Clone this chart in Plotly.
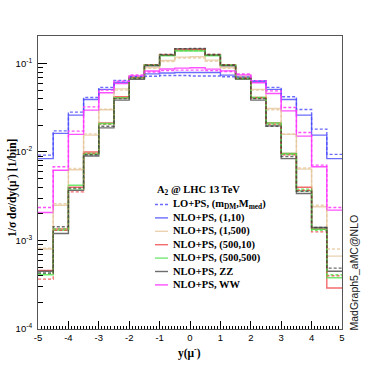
import plotly.graph_objects as go

# ---------------- data ----------------
bin_edges = [-5.0, -4.5, -4.0, -3.5, -3.0, -2.5, -2.0, -1.5, -1.0, -0.5, 0.0,
             0.5, 1.0, 1.5, 2.0, 2.5, 3.0, 3.5, 4.0, 4.5, 5.0]

nlo_1_10 = [0.0084, 0.0162, 0.0261, 0.0392, 0.0509, 0.061, 0.0706, 0.0763, 0.078, 0.079,
            0.079, 0.079, 0.0738, 0.0706, 0.062, 0.0509, 0.0392, 0.0261, 0.0155, 0.0084]
lo_1_10 = [0.0092, 0.0173, 0.0282, 0.0413, 0.0536, 0.0642, 0.071, 0.0718, 0.073, 0.073,
           0.072, 0.072, 0.0706, 0.070, 0.064, 0.0536, 0.042, 0.0302, 0.0181, 0.0094]

nlo_1_500 = [0.00080, 0.0025, 0.0063, 0.0155, 0.0300, 0.0516, 0.0718, 0.090, 0.108, 0.118,
             0.119, 0.109, 0.090, 0.072, 0.0509, 0.031, 0.0158, 0.0064, 0.0024, 0.000665]
lo_1_500 = [0.00082, 0.0026, 0.0065, 0.0160, 0.0305, 0.050, 0.070, 0.088, 0.105, 0.115,
            0.115, 0.106, 0.088, 0.070, 0.050, 0.030, 0.0160, 0.0066, 0.0025, 0.00080]

nlo_500_10 = [0.00046, 0.00135, 0.0040, 0.0100, 0.0213, 0.042, 0.0695, 0.096, 0.124, 0.142,
              0.143, 0.124, 0.096, 0.0675, 0.0413, 0.0213, 0.0096, 0.0040, 0.00135, 0.00029]
lo_500_10 = [0.000366, 0.0013, 0.00354, 0.0096, 0.0205, 0.041, 0.069, 0.097, 0.126, 0.145,
             0.145, 0.126, 0.097, 0.068, 0.041, 0.0205, 0.0093, 0.0037, 0.00125, 0.0004]

nlo_500_500 = [0.00041, 0.0013, 0.0042, 0.0096, 0.021, 0.041, 0.069, 0.095, 0.122, 0.138,
               0.138, 0.122, 0.095, 0.067, 0.0413, 0.0213, 0.0096, 0.00363, 0.00134, 0.00038]
lo_500_500 = [0.00042, 0.00135, 0.0038, 0.0094, 0.0207, 0.041, 0.068, 0.096, 0.124, 0.140,
              0.140, 0.124, 0.096, 0.068, 0.041, 0.0207, 0.0094, 0.0038, 0.0013, 0.00041]

nlo_zz = [0.00045, 0.0012, 0.0037, 0.0090, 0.0187, 0.0385, 0.066, 0.094, 0.124, 0.146,
          0.146, 0.124, 0.094, 0.0665, 0.0385, 0.0197, 0.0084, 0.0034, 0.0014, 0.00045]
lo_zz = [0.00043, 0.00143, 0.0039, 0.0093, 0.0195, 0.040, 0.068, 0.096, 0.126, 0.147,
         0.148, 0.126, 0.096, 0.068, 0.040, 0.0195, 0.0089, 0.0036, 0.0014, 0.000487]

nlo_ww = [0.00207, 0.00622, 0.0158, 0.0297, 0.0466, 0.0594, 0.072, 0.082, 0.0865, 0.0885,
          0.0893, 0.0862, 0.0825, 0.0743, 0.0605, 0.0458, 0.0291, 0.0151, 0.0068, 0.0022]
lo_ww = [0.00236, 0.0068, 0.0172, 0.0323, 0.050, 0.063, 0.074, 0.080, 0.083, 0.084,
         0.084, 0.083, 0.081, 0.076, 0.064, 0.049, 0.0318, 0.0166, 0.0071, 0.00236]

series_names = ["NLO+PS, (1,10)", "NLO+PS, (1,500)", "NLO+PS, (500,10)",
                "NLO+PS, (500,500)", "NLO+PS, ZZ", "NLO+PS, WW"]
lo_label = "LO+PS, (m<sub>DM</sub>,M<sub>med</sub>)"
header = "A<sub>2</sub> @ LHC 13 TeV"

x_ticks = [-5, -4, -3, -2, -1, 0, 1, 2, 3, 4, 5]
x_ticktext = ["-5", "-4", "-3", "-2", "-1", "0", "1", "2", "3", "4", "5"]
y_ticks = [1e-4, 1e-3, 1e-2, 1e-1]
y_ticktext = ["10<sup>-4</sup>", "10<sup>-3</sup>", "10<sup>-2</sup>", "10<sup>-1</sup>"]

# ---------------- style ----------------
colors = ["rgba(70,70,255,0.8)", "rgba(228,195,150,0.75)", "rgba(240,70,70,0.8)",
          "rgba(70,225,70,0.75)", "rgba(60,60,60,0.75)", "rgba(255,50,255,0.85)"]
nlo_sets = [nlo_1_10, nlo_1_500, nlo_500_10, nlo_500_500, nlo_zz, nlo_ww]
lo_sets = [lo_1_10, lo_1_500, lo_500_10, lo_500_500, lo_zz, lo_ww]
LW = 1.4
DASH = "3px,2px"

fig = go.Figure()
for vals, col in zip(nlo_sets, colors):
    fig.add_trace(go.Scatter(x=bin_edges, y=vals + [vals[-1]], mode="lines",
                             line=dict(shape="hv", color=col, width=LW),
                             showlegend=False, hoverinfo="skip"))
for vals, col in zip(lo_sets, colors):
    fig.add_trace(go.Scatter(x=bin_edges, y=vals + [vals[-1]], mode="lines",
                             line=dict(shape="hv", color=col, width=LW, dash=DASH),
                             showlegend=False, hoverinfo="skip"))

# ---------------- layout geometry ----------------
W, H = 382, 367
ML, MR, MT, MB = 38, 40, 36, 38
PW, PH = W - ML - MR, H - MT - MB


def px(xp):
    return (xp - ML) / PW


def py(yp):
    return (H - MB - yp) / PH


serif_bold = dict(family="Liberation Serif", size=10.5, color="black", weight="bold")
annotations = []
shapes = []

# Legend (manual, ROOT-style compact)
annotations.append(dict(text=header, x=px(155), y=py(190), xref="paper", yref="paper",
                        xanchor="left", yanchor="middle", showarrow=False, font=serif_bold))
legend_rows = [(lo_label, colors[0], DASH)] + [(n, c, "solid") for n, c in zip(series_names, colors)]
for i, (lab, col, dash) in enumerate(legend_rows):
    yy = 204.5 + 13.4 * i
    annotations.append(dict(text=lab, x=px(171), y=py(yy), xref="paper", yref="paper",
                            xanchor="left", yanchor="middle", showarrow=False, font=serif_bold))
    shapes.append(dict(type="line", xref="paper", yref="paper",
                       x0=px(155), x1=px(168), y0=py(yy), y1=py(yy),
                       line=dict(color=col, width=LW, dash=dash)))

# axis titles
annotations.append(dict(text="1/σ dσ/dy(μ<sup>-</sup>) [1/bin]", x=px(12), y=py(188),
                        xref="paper", yref="paper", xanchor="center", yanchor="middle",
                        textangle=-90, showarrow=False,
                        font=dict(family="Liberation Serif", size=11.5, color="black", weight="bold")))
annotations.append(dict(text="y(μ<sup>-</sup>)", x=px(189), y=py(353),
                        xref="paper", yref="paper", xanchor="center", yanchor="middle",
                        showarrow=False,
                        font=dict(family="Liberation Serif", size=11.5, color="black", weight="bold")))
annotations.append(dict(text="MadGraph5_aMC@NLO", x=px(353.5), y=py(273),
                        xref="paper", yref="paper", xanchor="center", yanchor="middle",
                        textangle=-90, showarrow=False,
                        font=dict(family="Liberation Sans", size=10.5, color="#222")))

y_minor = [k * 10.0 ** e for e in (-4, -3, -2, -1) for k in range(2, 10) if k * 10.0 ** e <= 0.2]

tickfont = dict(family="Liberation Sans", size=9.5, color="black")
frame = "#555555"

fig.update_layout(
    width=W, height=H, autosize=False,
    margin=dict(l=ML, r=MR, t=MT, b=MB, pad=0, autoexpand=False),
    paper_bgcolor="white", plot_bgcolor="white",
    showlegend=False,
    annotations=annotations, shapes=shapes,
    xaxis=dict(range=[-5, 5], tickvals=x_ticks, ticktext=x_ticktext, ticks="inside",
               ticklen=8, tickwidth=1, tickcolor="black", showline=True, linecolor=frame,
               linewidth=1, mirror=True, showgrid=False, zeroline=False, tickfont=tickfont,
               automargin=False,
               minor=dict(ticks="inside", dtick=0.1, ticklen=3, tickcolor="black", showgrid=False)),
    xaxis2=dict(range=[-5, 5], overlaying="x", anchor="y", side="bottom",
                tickvals=[-4.5, -3.5, -2.5, -1.5, -0.5, 0.5, 1.5, 2.5, 3.5, 4.5],
                ticks="inside", ticklen=5, tickcolor="black", showticklabels=False,
                showline=False, showgrid=False, zeroline=False, automargin=False),
    yaxis=dict(type="log", range=[-4, -0.69], tickvals=y_ticks, ticktext=y_ticktext,
               ticks="inside", ticklen=9, tickwidth=1, tickcolor="black", showline=True,
               linecolor=frame, linewidth=1, mirror=True, showgrid=False, zeroline=False,
               tickfont=tickfont, ticklabelstandoff=3, automargin=False,
               minor=dict(ticks="inside", tickvals=y_minor, ticklen=5, tickcolor="black",
                          showgrid=False)),
)

# remove the browser's default 8px body margin so the figure sits at the page origin
fig.write_html("out.html",
               config={"displayModeBar": False, "staticPlot": True},
               post_script="document.body.style.margin='0';document.body.style.padding='0';")
